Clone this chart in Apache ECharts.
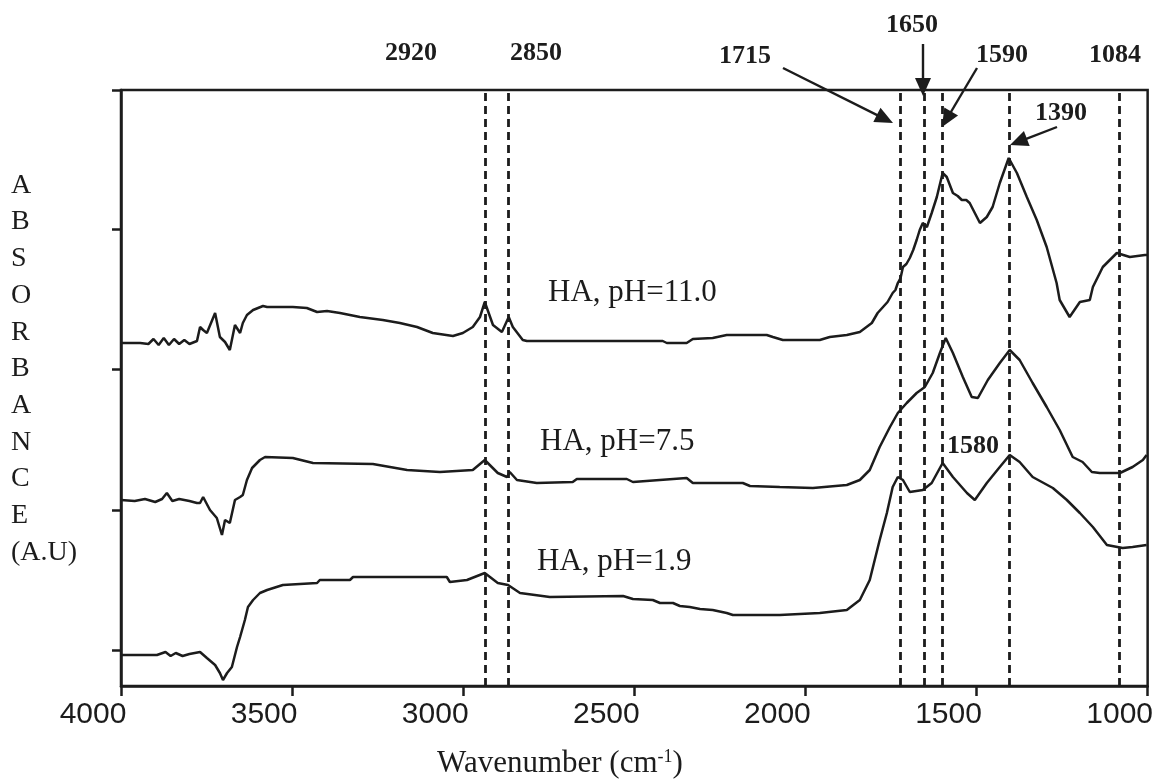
<!DOCTYPE html>
<html>
<head>
<meta charset="utf-8">
<script src="https://cdn.jsdelivr.net/npm/echarts@6/dist/echarts.min.js"></script>
<style>
  html, body { margin: 0; padding: 0; background: #fff; }
  #chart { width: 1156px; height: 781px; }
</style>
</head>
<body>
<div id="chart"></div>
<script>
// ---------------- DATA ----------------
// [wavenumber (cm-1), absorbance (a.u., offset)]
const ph110 = [
  [4000,3.43],[3944,3.43],[3920,3.42],[3905,3.47],[3890,3.41],[3875,3.48],[3860,3.41],[3845,3.47],
  [3830,3.42],[3815,3.46],[3800,3.42],[3778,3.45],[3769,3.59],[3760,3.56],[3749,3.53],[3725,3.73],
  [3711,3.49],[3696,3.44],[3682,3.36],[3667,3.61],[3652,3.53],[3644,3.63],[3632,3.71],[3614,3.76],
  [3585,3.80],[3573,3.79],[3498,3.79],[3457,3.78],[3427,3.74],[3398,3.75],[3360,3.73],[3302,3.69],
  [3235,3.66],[3185,3.63],[3135,3.59],[3089,3.53],[3030,3.50],[3001,3.53],[2972,3.59],[2951,3.69],
  [2937,3.84],[2913,3.61],[2887,3.54],[2867,3.69],[2855,3.59],[2826,3.46],[2814,3.45],[2417,3.45],
  [2405,3.43],[2347,3.43],[2329,3.47],[2271,3.48],[2230,3.51],[2113,3.51],[2095,3.49],[2066,3.46],
  [1958,3.46],[1929,3.49],[1879,3.51],[1841,3.54],[1806,3.63],[1789,3.73],[1760,3.84],[1745,3.93],
  [1737,3.96],[1730,4.03],[1722,4.08],[1715,4.19],[1705,4.22],[1695,4.28],[1685,4.36],[1675,4.46],
  [1666,4.56],[1657,4.63],[1645,4.59],[1631,4.73],[1616,4.89],[1599,5.13],[1587,5.09],[1569,4.93],
  [1555,4.90],[1543,4.86],[1530,4.86],[1520,4.83],[1490,4.63],[1470,4.69],[1453,4.79],[1432,5.03],
  [1406,5.28],[1382,5.13],[1353,4.89],[1324,4.66],[1295,4.39],[1266,4.03],[1257,3.86],[1228,3.69],
  [1198,3.84],[1169,3.86],[1160,3.99],[1131,4.19],[1090,4.33],[1052,4.29],[1008,4.31],[1000,4.31]
];
const ph75 = [
  [4000,1.86],[3960,1.85],[3930,1.87],[3900,1.84],[3880,1.87],[3866,1.93],[3850,1.85],[3830,1.87],
  [3800,1.85],[3778,1.83],[3769,1.83],[3760,1.89],[3740,1.76],[3720,1.68],[3705,1.51],[3696,1.66],
  [3682,1.63],[3667,1.86],[3652,1.89],[3644,1.91],[3632,2.06],[3617,2.18],[3594,2.26],[3579,2.29],
  [3498,2.28],[3439,2.23],[3264,2.22],[3164,2.16],[3068,2.14],[2972,2.16],[2937,2.26],[2899,2.13],
  [2872,2.09],[2864,2.14],[2843,2.06],[2785,2.03],[2680,2.04],[2668,2.07],[2522,2.07],[2504,2.04],
  [2347,2.08],[2329,2.03],[2183,2.03],[2162,2.00],[2075,1.99],[1978,1.98],[1879,2.01],[1841,2.06],
  [1812,2.16],[1783,2.39],[1753,2.59],[1730,2.73],[1704,2.83],[1675,2.93],[1651,2.99],[1628,3.13],
  [1607,3.33],[1590,3.48],[1569,3.33],[1540,3.09],[1514,2.89],[1496,2.88],[1467,3.06],[1432,3.23],
  [1403,3.36],[1374,3.26],[1336,3.03],[1295,2.79],[1257,2.56],[1219,2.29],[1190,2.24],[1163,2.14],
  [1140,2.13],[1081,2.13],[1044,2.19],[1014,2.26],[1003,2.31]
];
const ph19 = [
  [4000,0.31],[3895,0.31],[3870,0.34],[3855,0.30],[3840,0.33],[3820,0.30],[3800,0.32],[3769,0.34],
  [3749,0.28],[3725,0.21],[3711,0.13],[3702,0.06],[3690,0.13],[3676,0.19],[3661,0.39],[3652,0.49],
  [3638,0.66],[3629,0.79],[3614,0.86],[3594,0.93],[3573,0.96],[3527,1.01],[3427,1.03],[3419,1.06],
  [3331,1.06],[3322,1.09],[3048,1.09],[3039,1.04],[2989,1.06],[2937,1.13],[2899,1.03],[2869,1.01],
  [2834,0.93],[2747,0.89],[2533,0.90],[2504,0.87],[2446,0.86],[2425,0.83],[2387,0.83],[2367,0.80],
  [2338,0.79],[2308,0.77],[2271,0.76],[2230,0.73],[2212,0.71],[2075,0.71],[1958,0.73],[1879,0.76],
  [1841,0.86],[1812,1.06],[1783,1.46],[1762,1.73],[1745,1.99],[1730,2.09],[1715,2.06],[1695,1.94],
  [1657,1.96],[1631,2.03],[1599,2.23],[1569,2.09],[1528,1.93],[1505,1.86],[1470,2.03],[1432,2.19],
  [1403,2.31],[1374,2.24],[1336,2.09],[1277,1.98],[1236,1.86],[1198,1.73],[1160,1.59],[1119,1.41],
  [1073,1.38],[1044,1.39],[1003,1.41]
];
// dashed reference lines (positions)
const peakLines = [2937, 2869, 1724, 1654, 1599, 1403, 1084];
const xTicks = { min: 1000, max: 4000, step: 500 };
const yTickValues = [0.36, 1.76, 3.17, 4.57, 5.96];
const yRange = { min: 0, max: 5.96 };
const seriesNames = ['HA, pH=11.0', 'HA, pH=7.5', 'HA, pH=1.9'];

// ---------------- CHART ----------------
const INK = '#1c1c1c';
const chart = echarts.init(document.getElementById('chart'), null, { renderer: 'canvas' });

function arrow(x1, y1, x2, y2) {
  const L = 18, W = 8;
  const dx = x2 - x1, dy = y2 - y1, len = Math.hypot(dx, dy);
  const ux = dx / len, uy = dy / len;
  const bx = x2 - ux * L, by = y2 - uy * L;
  const px = -uy, py = ux;
  return [
    { type: 'line', silent: true, shape: { x1: x1, y1: y1, x2: bx + ux * 2, y2: by + uy * 2 },
      style: { stroke: INK, lineWidth: 2.4 } },
    { type: 'polygon', silent: true,
      shape: { points: [[x2, y2], [bx + px * W, by + py * W], [bx - px * W, by - py * W]] },
      style: { fill: INK } }
  ];
}
function label(text, x, y, size, bold, align) {
  return { type: 'text', silent: true, x: x, y: y,
    style: { text: text, fill: INK, font: (bold ? 'bold ' : '') + size + 'px "Liberation Serif", "Times New Roman", serif',
      textAlign: align || 'center', textVerticalAlign: 'middle' } };
}

const graphics = [
  // vertical axis title
  { type: 'text', silent: true, x: 11, y: 167,
    style: { text: 'A\nB\nS\nO\nR\nB\nA\nN\nC\nE\n(A.U)', fill: INK,
      font: '28px "Liberation Serif", "Times New Roman", serif', lineHeight: 36.7, textAlign: 'left' } },
  // x axis title
  { type: 'text', silent: true, x: 560, y: 764,
    style: { text: 'Wavenumber (cm{sup|-1})', fill: INK, textAlign: 'center', textVerticalAlign: 'middle',
      font: '31px "Liberation Serif", "Times New Roman", serif',
      rich: { sup: { fontSize: 18, verticalAlign: 'top', padding: [0, 0, 14, 0], fontFamily: 'Liberation Serif' } } } },
  label(seriesNames[0], 548, 293, 31, false, 'left'),
  label(seriesNames[1], 540, 442, 31, false, 'left'),
  label(seriesNames[2], 537, 562, 31, false, 'left'),
  label('2920', 411, 53, 26, true),
  label('2850', 536, 53, 26, true),
  label('1715', 745, 56, 26, true),
  label('1650', 912, 25, 26, true),
  label('1590', 1002, 55, 26, true),
  label('1084', 1115, 55, 26, true),
  label('1390', 1061, 113, 26, true),
  label('1580', 973, 446, 26, true)
].concat(
  arrow(783, 68, 893, 123),
  arrow(923, 44, 923, 96),
  arrow(977, 68, 942, 127),
  arrow(1057, 127, 1010, 145)
);

function lineSeries(name, data, withMarks) {
  const s = {
    name: name, type: 'line', data: data, showSymbol: false, symbol: 'none',
    lineStyle: { color: INK, width: 2.5 }, silent: true, animation: false, z: 3
  };
  if (withMarks) {
    s.markLine = {
      silent: true, symbol: ['none', 'none'], label: { show: false },
      lineStyle: { color: INK, type: [8, 5], width: 2.8 },
      data: peakLines.map(function (v) { return { xAxis: v }; })
    };
  }
  return s;
}

chart.setOption({
  backgroundColor: '#ffffff',
  animation: false,
  grid: { left: 121, right: 7, top: 90, bottom: 95, show: true, borderColor: INK, borderWidth: 2.5 },
  xAxis: {
    type: 'value', inverse: true, min: xTicks.min, max: xTicks.max, interval: xTicks.step,
    axisLine: { show: true, lineStyle: { color: INK, width: 2.5 } },
    axisTick: { show: true, inside: false, length: 10, lineStyle: { color: INK, width: 2.5 } },
    axisLabel: { show: true, color: INK, fontSize: 30, fontFamily: '"Liberation Sans", Arial, sans-serif',
      margin: 14, padding: [0, 56, 0, 0], formatter: function (v) { return String(v); } },
    splitLine: { show: false }
  },
  yAxis: {
    type: 'value', min: yRange.min, max: yRange.max,
    axisLine: { show: true, lineStyle: { color: INK, width: 2.5 } },
    axisTick: { show: true, inside: false, length: 9, customValues: yTickValues, lineStyle: { color: INK, width: 2.5 } },
    axisLabel: { show: false },
    splitLine: { show: false }
  },
  series: [
    lineSeries(seriesNames[0], ph110, true),
    lineSeries(seriesNames[1], ph75, false),
    lineSeries(seriesNames[2], ph19, false)
  ],
  graphic: graphics
});
</script>
</body>
</html>
